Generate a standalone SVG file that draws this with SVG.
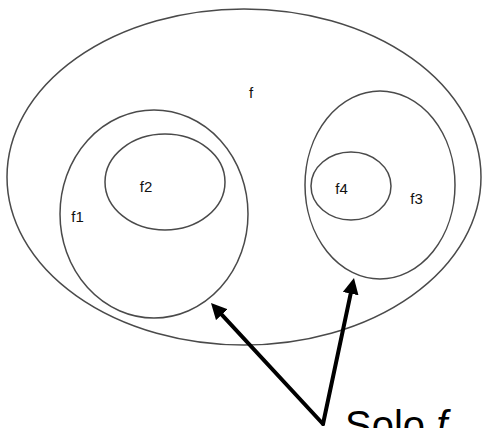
<svg xmlns="http://www.w3.org/2000/svg" width="483" height="428" viewBox="0 0 483 428">
<style>
.set{fill:none;stroke:#4a4a4a;stroke-width:1.5}
.lbl{font-family:"Liberation Sans",Arial,sans-serif;font-size:15px;fill:#111}
.arr{stroke:#000;stroke-width:4;fill:none;stroke-linecap:round}
</style>
<defs>
<marker id="ah" viewBox="0 0 10 10" markerWidth="4" markerHeight="4" refX="3.75" refY="5" orient="auto">
<path d="M0,0 L10,5 L0,10 z" fill="#000"/>
</marker>
</defs>
<rect width="483" height="428" fill="#fff"/>
<g id="f">
<ellipse class="set" cx="244" cy="177" rx="237" ry="168"/>
<text class="lbl" x="251" y="98" text-anchor="middle">f</text>
</g>
<g id="f1">
<ellipse class="set" cx="154" cy="214" rx="94" ry="104"/>
<text class="lbl" x="77.5" y="222" text-anchor="middle">f1</text>
</g>
<g id="f2">
<ellipse class="set" cx="165" cy="182" rx="60" ry="48"/>
<text class="lbl" x="146" y="192" text-anchor="middle">f2</text>
</g>
<g id="f3">
<ellipse class="set" cx="380" cy="185" rx="75" ry="94"/>
<text class="lbl" x="416.5" y="204" text-anchor="middle">f3</text>
</g>
<g id="f4">
<ellipse class="set" cx="351" cy="186" rx="40" ry="34"/>
<text class="lbl" x="341.5" y="194" text-anchor="middle">f4</text>
</g>
<g id="connectors">
<line class="arr" x1="323" y1="424" x2="217.8" y2="310.3" marker-end="url(#ah)"/>
<line class="arr" x1="323" y1="424" x2="351.9" y2="287.8" marker-end="url(#ah)"/>
</g>
<g id="note">
<text x="345" y="439" font-family="'Liberation Sans',Arial,sans-serif" font-size="40" fill="#000">Solo <tspan font-style="italic">f</tspan></text>
</g>
</svg>
